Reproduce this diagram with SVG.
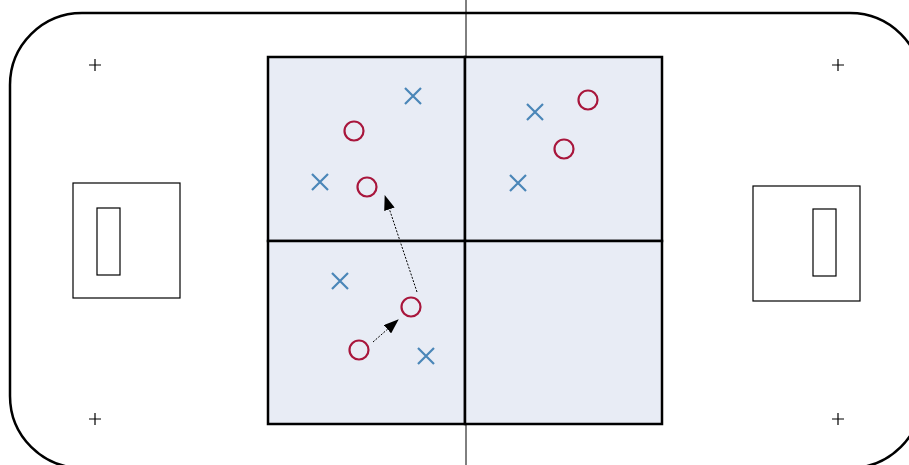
<svg xmlns="http://www.w3.org/2000/svg" width="909" height="465" viewBox="0 0 909 465">
<style>
.rink{fill:#fff;stroke:#000;stroke-width:2.5}
.mid{stroke:#000;stroke-width:1}
.zone{fill:#e8ecf5;stroke:#000;stroke-width:2.5}
.box{fill:#fff;stroke:#000;stroke-width:1.2}
.plus{stroke:#000;stroke-width:1.2}
.x{stroke:#4a86b8;stroke-width:2.2;fill:none}
.o{stroke:#a8163c;stroke-width:2.2;fill:none}
.arr{stroke:#000;stroke-width:1;stroke-dasharray:2,1.5;fill:none;marker-end:url(#ah)}
</style>
<defs>
<marker id="ah" viewBox="0 0 15 11" refX="14" refY="5.5" markerWidth="15" markerHeight="11" markerUnits="userSpaceOnUse" orient="auto">
<path d="M0,0 L15,5.5 L0,11 z" fill="#000"/>
</marker>
<g id="xm"><path class="x" d="M-8,-8 L8,8 M-8,8 L8,-8"/></g>
<g id="pl"><path class="plus" d="M-6,0 H6 M0,-6 V6"/></g>
</defs>
<g id="rink">
<rect class="rink" x="10" y="13" width="912" height="455" rx="72" ry="72"/>
<line class="mid" x1="466" y1="0" x2="466" y2="465"/>
</g>
<g id="grid">
<rect class="zone" x="268" y="57" width="197" height="184"/>
<rect class="zone" x="465" y="57" width="197" height="184"/>
<rect class="zone" x="268" y="241" width="197" height="183"/>
<rect class="zone" x="465" y="241" width="197" height="183"/>
</g>
<g id="left-goal">
<rect class="box" x="73" y="183" width="107" height="115"/>
<rect class="box" x="97" y="208" width="23" height="67"/>
</g>
<g id="right-goal">
<rect class="box" x="753" y="186" width="107" height="115"/>
<rect class="box" x="813" y="209" width="23" height="67"/>
</g>
<g id="marks">
<use href="#pl" x="95" y="65"/>
<use href="#pl" x="838" y="65"/>
<use href="#pl" x="95" y="419"/>
<use href="#pl" x="838" y="419"/>
</g>
<g id="players-x">
<use href="#xm" x="413" y="96"/>
<use href="#xm" x="320" y="182"/>
<use href="#xm" x="535" y="112"/>
<use href="#xm" x="518" y="183"/>
<use href="#xm" x="340" y="281"/>
<use href="#xm" x="426" y="356"/>
</g>
<g id="players-o">
<circle class="o" cx="354" cy="131" r="9.5"/>
<circle class="o" cx="367" cy="187" r="9.5"/>
<circle class="o" cx="588" cy="100" r="9.5"/>
<circle class="o" cx="564" cy="149" r="9.5"/>
<circle class="o" cx="411" cy="307" r="9.5"/>
<circle class="o" cx="359" cy="350" r="9.5"/>
</g>
<g id="connectors">
<line class="arr" x1="417" y1="292" x2="385" y2="196"/>
<line class="arr" x1="373" y1="342" x2="398" y2="320"/>
</g>
</svg>
